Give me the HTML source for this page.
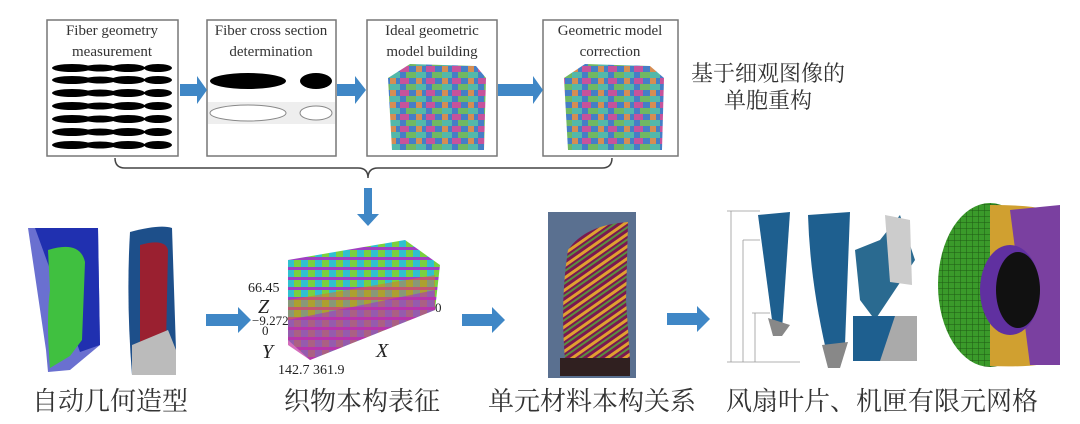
<!DOCTYPE html>
<html><head><meta charset="utf-8"><style>
body{margin:0;background:#fff;}
svg{display:block}
.t{font-family:"Liberation Serif",serif;font-size:15px;fill:#333;text-anchor:middle}
.c{font-family:"Liberation Serif","Noto Serif CJK SC","Noto Sans CJK SC",serif;fill:#333;text-anchor:middle}
</style></head><body>
<svg width="1080" height="424" viewBox="0 0 1080 424" xmlns="http://www.w3.org/2000/svg">
<defs>
<pattern id="mesh" width="6" height="6" patternUnits="userSpaceOnUse"><rect width="6" height="6" fill="#3a9a2a"/><path d="M0 0H6M0 0V6" stroke="#1f5a14" stroke-width="1"/></pattern>
<pattern id="stripes" width="10" height="10" patternUnits="userSpaceOnUse" patternTransform="rotate(-35)"><rect width="10" height="10" fill="#7a1850"/><rect y="0" width="10" height="3" fill="#e0a030"/><rect y="5" width="10" height="2" fill="#5a9040"/></pattern>
<pattern id="weave" width="14" height="10" patternUnits="userSpaceOnUse"><rect width="14" height="10" fill="#7ad040"/><rect x="7" width="7" height="10" fill="#30c0d0"/><rect y="7" width="14" height="3" fill="#a040c0"/></pattern>
<pattern id="cube" width="26" height="12" patternUnits="userSpaceOnUse"><rect width="26" height="12" fill="#3070c0"/><rect width="10" height="6" fill="#40b0a0"/><rect x="10" y="6" width="9" height="6" fill="#c04090"/><rect x="16" width="10" height="6" fill="#60b050"/><rect x="0" y="6" width="6" height="6" fill="#d08040"/></pattern>
<g id="row"><ellipse cx="72" cy="0" rx="20" ry="4"/><ellipse cx="100" cy="0" rx="16" ry="3.5"/><ellipse cx="128" cy="0" rx="17" ry="4"/><ellipse cx="158" cy="0" rx="14" ry="4"/></g>
</defs>

<g fill="#fff" stroke="#777" stroke-width="1.5">
<rect x="47" y="20" width="131" height="136"/>
<rect x="207" y="20" width="129" height="136"/>
<rect x="367" y="20" width="130" height="136"/>
<rect x="543" y="20" width="135" height="136"/>
</g>
<text class="t" x="112" y="35">Fiber geometry</text><text class="t" x="112" y="56">measurement</text>
<text class="t" x="271" y="35">Fiber cross section</text><text class="t" x="271" y="56">determination</text>
<text class="t" x="432" y="35">Ideal geometric</text><text class="t" x="432" y="56">model building</text>
<text class="t" x="610" y="35">Geometric model</text><text class="t" x="610" y="56">correction</text>

<g fill="#000">
<use href="#row" transform="translate(0,68)"/><use href="#row" transform="translate(0,80)"/><use href="#row" transform="translate(0,93)"/><use href="#row" transform="translate(0,106)"/><use href="#row" transform="translate(0,119)"/><use href="#row" transform="translate(0,132)"/><use href="#row" transform="translate(0,145)"/>
</g>
<ellipse cx="248" cy="81" rx="38" ry="8" fill="#000"/>
<ellipse cx="316" cy="81" rx="16" ry="8" fill="#000"/>
<rect x="208" y="102" width="127" height="22" fill="#eee"/>
<ellipse cx="248" cy="113" rx="38" ry="8" fill="#fff" stroke="#888"/>
<ellipse cx="316" cy="113" rx="16" ry="7" fill="#fff" stroke="#888"/>
<path d="M388 78 L410 64 L476 66 L486 78 L484 150 L392 150 Z" fill="url(#cube)" opacity="0.9"/>
<path d="M564 78 L585 64 L650 66 L664 78 L662 150 L568 150 Z" fill="url(#cube)" opacity="0.9"/>

<g fill="#3f87c6">
<path d="M180 84h17v-8l10 14-10 14v-8h-17z"/>
<path d="M337 84h18v-8l11 14-11 14v-8h-18z"/>
<path d="M498 84h35v-8l10 14-10 14v-8h-35z"/>
<path d="M364 188h8v26h7l-11 12-11-12h7z"/>
<path d="M206 314h32v-7l13 13-13 13v-7h-32z"/>
<path d="M462 314h30v-7l13 13-13 13v-7h-30z"/>
<path d="M667 313h30v-7l13 13-13 13v-7h-30z"/>
</g>
<text class="c" x="768" y="81" font-size="22">基于细观图像的</text>
<text class="c" x="768" y="108" font-size="22">单胞重构</text>

<path d="M115 158 q0 10 10 10 H358 q10 0 10 10 q0 -10 10 -10 H602 q10 0 10 -10" fill="none" stroke="#444" stroke-width="1.5"/>

<path d="M28 228 L98 228 L100 345 L70 370 L48 372 L46 350 Z" fill="#6a70d0"/>
<path d="M35 228 L98 228 L100 345 L80 352 Z" fill="#2030b0"/>
<path d="M48 250 Q80 240 85 262 L82 340 L70 356 L50 368 Q46 320 50 290 Z" fill="#40c040"/>
<path d="M130 232 Q160 224 172 228 L176 350 L132 375 Q126 300 130 232 Z" fill="#1d4f8a"/>
<path d="M140 245 Q165 238 168 250 L166 345 L140 355 Z" fill="#9a2030"/>
<path d="M132 345 L168 330 L176 350 L176 375 L132 375 Z" fill="#bbb"/>

<path d="M288 260 L405 240 L440 265 L435 310 L310 360 L288 340 Z" fill="url(#weave)"/>
<path d="M288 320 L435 290 L435 310 L310 360 L288 345 Z" fill="#c030a0" opacity="0.7"/>
<path d="M288 300 L435 275 L435 290 L288 320 Z" fill="#e07020" opacity="0.5"/>
<g font-family="Liberation Serif,serif" fill="#222">
<text x="248" y="292" font-size="14">66.45</text>
<text x="258" y="313" font-size="20" font-style="italic">Z</text>
<text x="252" y="325" font-size="13">−9.272</text>
<text x="262" y="335" font-size="13">0</text>
<text x="262" y="358" font-size="20" font-style="italic">Y</text>
<text x="376" y="357" font-size="20" font-style="italic">X</text>
<text x="435" y="312" font-size="13">0</text>
<text x="278" y="374" font-size="14">142.7 361.9</text>
</g>

<rect x="548" y="212" width="88" height="166" fill="#5a7090"/>
<path d="M568 250 Q585 225 628 222 L626 300 L630 360 L565 360 Q560 300 568 250 Z" fill="url(#stripes)"/>
<rect x="560" y="358" width="70" height="18" fill="#302020"/>

<g stroke="#999" stroke-width="0.8" fill="none">
<path d="M731 211 V362 M727 211 H760 M743 240 V362 M743 240 H760 M755 313 V362 M752 313 H770 M727 362 H800"/>
</g>
<path d="M758 215 L790 212 L782 330 L772 320 Z" fill="#1e5f8f"/>
<path d="M768 318 L790 325 L782 336 L773 336 Z" fill="#888"/>
<path d="M808 215 L850 212 L845 345 L826 350 Q810 280 808 215 Z" fill="#1e5f8f"/>
<path d="M822 345 L848 342 L840 368 L828 368 Z" fill="#888"/>
<path d="M855 250 L880 240 L900 215 L915 260 L895 290 L875 320 L860 300 Z" fill="#2a6a90"/>
<path d="M885 215 L910 220 L912 285 L890 282 Z" fill="#ccc"/>
<rect x="853" y="316" width="64" height="45" fill="#1e5f8f"/>
<path d="M895 316 L917 316 L917 361 L880 361 Z" fill="#aaa"/>
<ellipse cx="990" cy="285" rx="52" ry="82" fill="url(#mesh)"/>
<path d="M990 205 Q1050 205 1055 215 L1058 360 Q1040 368 990 366 Z" fill="#d0a030"/>
<path d="M1010 210 L1060 205 L1060 365 L1030 365 Z" fill="#7a40a0"/>
<ellipse cx="1010" cy="290" rx="30" ry="45" fill="#6030a0"/>
<ellipse cx="1018" cy="290" rx="22" ry="38" fill="#111"/>

<g class="c" font-size="26">
<text x="110" y="410">自动几何造型</text>
<text x="362" y="410">织物本构表征</text>
<text x="592" y="410">单元材料本构关系</text>
<text x="882" y="410">风扇叶片、机匣有限元网格</text>
</g>
</svg>
</body></html>
